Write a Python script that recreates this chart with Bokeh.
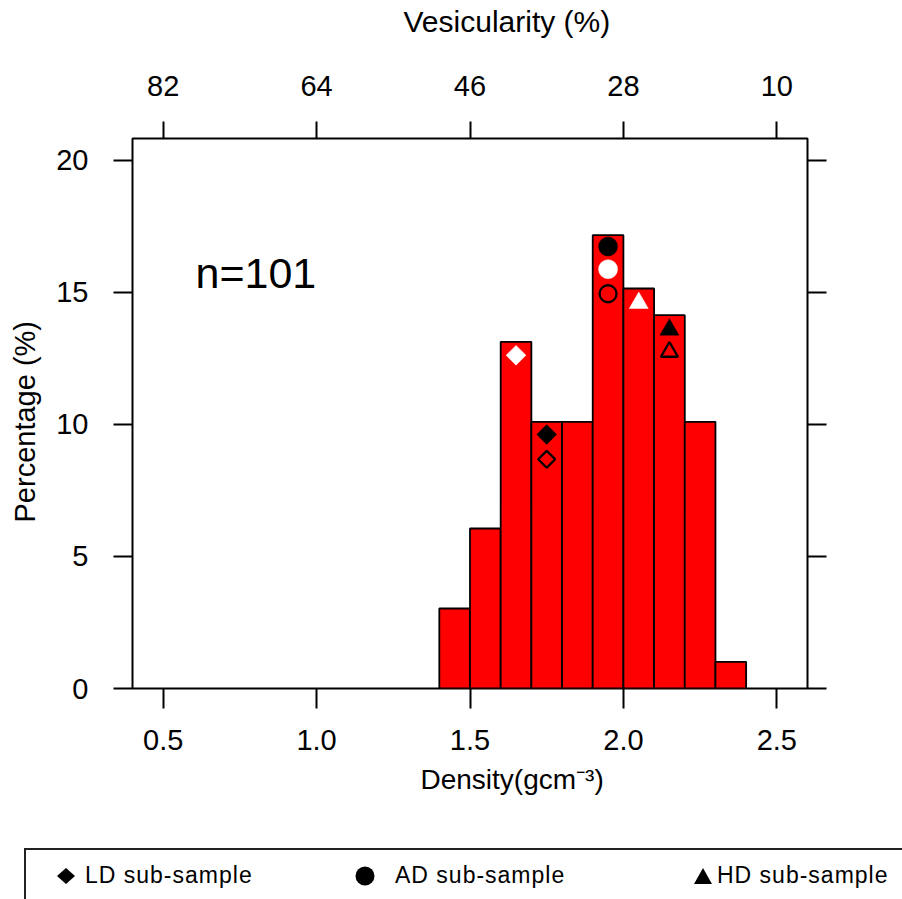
import numpy as np
from bokeh.plotting import figure
from bokeh.models import (LinearAxis, FixedTicker, Range1d, Label, NumeralTickFormatter,
                          ColumnDataSource, Title, Div)
from bokeh.layouts import column
from bokeh.embed import file_html
from bokeh.resources import INLINE

# ---------------- data ----------------
bin_edges = [1.4, 1.5, 1.6, 1.7, 1.8, 1.9, 2.0, 2.1, 2.2, 2.3, 2.4]
bin_pct = [3.03, 6.06, 13.13, 10.10, 10.10, 17.17, 15.15, 14.14, 10.10, 1.01]

density_ticks = [0.5, 1.0, 1.5, 2.0, 2.5]
vesicularity_labels = ["82", "64", "46", "28", "10"]
pct_ticks = [0, 5, 10, 15, 20]

# sub-sample markers (density bin centre, percentage, style)
ld_density = [1.65, 1.75, 1.75]
ld_pct = [12.62, 9.62, 8.68]
ld_style = ["white", "black", "open"]

ad_density = [1.95, 1.95, 1.95]
ad_pct = [16.74, 15.88, 14.95]
ad_style = ["black", "white", "open"]

hd_density = [2.05, 2.15, 2.15]
hd_pct = [14.60, 13.59, 12.75]
hd_style = ["white", "black", "open"]

legend_labels = ["LD sub-sample", "AD sub-sample", "HD sub-sample"]
n_label = "n=101"

FONT = "Liberation Sans"

# ---------------- main figure ----------------
XR = (0.4, 2.6)
YR = (0.0, 20.83)
p = figure(width=902, height=845,
           x_range=Range1d(*XR), y_range=Range1d(*YR),
           output_backend="svg", toolbar_location=None,
           min_border_left=132, min_border_top=138,
           min_border_right=95, min_border_bottom=157)
p.xgrid.visible = False
p.ygrid.visible = False
p.outline_line_color = "black"
p.outline_line_width = 2
p.background_fill_color = "white"
p.border_fill_color = "white"

def style_axis(ax, tick_out, standoff):
    ax.major_tick_out = tick_out
    ax.major_tick_in = 0
    ax.minor_tick_line_color = None
    ax.axis_line_color = None
    ax.major_tick_line_color = "black"
    ax.major_tick_line_width = 2
    ax.major_label_text_font = FONT
    ax.major_label_text_font_size = "29px"
    ax.major_label_text_color = "black"
    ax.major_label_standoff = standoff

def spacer_axis(gap, tick):
    # invisible axis used only to leave a gap between tick labels and title
    return LinearAxis(ticker=FixedTicker(ticks=[tick]), major_label_overrides={tick: ""},
                      major_tick_out=gap, major_tick_in=0, major_label_standoff=0,
                      major_label_text_font_size="1px", axis_line_color=None,
                      major_tick_line_color=None, minor_tick_line_color=None,
                      major_label_text_color=None)

xa = p.xaxis[0]
xa.ticker = FixedTicker(ticks=density_ticks)
xa.formatter = NumeralTickFormatter(format="0.0")
style_axis(xa, 20, 21)

ya = p.yaxis[0]
ya.ticker = FixedTicker(ticks=pct_ticks)
style_axis(ya, 19, 25)

top = LinearAxis(ticker=FixedTicker(ticks=density_ticks),
                 major_label_overrides=dict(zip(density_ticks, vesicularity_labels)))
style_axis(top, 17, 26)
p.add_layout(top, "above")

right = LinearAxis(ticker=FixedTicker(ticks=pct_ticks))
style_axis(right, 19, 5)
right.major_label_text_color = None
p.add_layout(right, "right")

p.add_layout(spacer_axis(35, density_ticks[2]), "above")
p.add_layout(spacer_axis(13, pct_ticks[2]), "left")

# axis titles
p.add_layout(Title(text="Vesicularity (%)", align="left", offset=271, standoff=0,
                   text_font=FONT, text_font_size="30px", text_font_style="normal",
                   text_color="black"), "above")
p.add_layout(Title(text="Density(gcm\u207b\u00b3)", align="left", offset=288, standoff=19,
                   text_font=FONT, text_font_size="28px", text_font_style="normal",
                   text_color="black"), "below")
p.add_layout(Title(text="Percentage (%)", align="left", offset=166, standoff=0,
                   text_font=FONT, text_font_size="29px", text_font_style="normal",
                   text_color="black"), "left")

# histogram bars
src = ColumnDataSource(dict(left=bin_edges[:-1], right=bin_edges[1:],
                            top=bin_pct, bottom=[0] * len(bin_pct)))
p.quad(left="left", right="right", top="top", bottom="bottom", source=src,
       fill_color="#ff0000", line_color="black", line_width=1.8)

def draw_markers(xs, ys, styles, marker, size, angle=0.0):
    for x, y, s in zip(xs, ys, styles):
        if s == "black":
            p.scatter([x], [y], marker=marker, size=size, angle=angle,
                      fill_color="black", line_color="black", line_width=0.5)
        elif s == "white":
            p.scatter([x], [y], marker=marker, size=size, angle=angle,
                      fill_color="white", line_color="white", line_width=0.5)
        else:
            p.scatter([x], [y], marker=marker, size=size - 2, angle=angle,
                      fill_color=None, line_color="black", line_width=2.3)

draw_markers(ld_density, ld_pct, ld_style, "square", 14, np.pi / 4)
draw_markers(ad_density, ad_pct, ad_style, "circle", 19)
draw_markers(hd_density, hd_pct, hd_style, "triangle", 19)

p.add_layout(Label(x=0.6053, y=15.75, text=n_label, text_font=FONT,
                   text_font_size="43px", text_color="black",
                   text_align="left", text_baseline="alphabetic"))

# ---------------- legend strip (HTML) ----------------
text_style = ("position:absolute;top:17px;height:26px;line-height:26px;"
              "font-family:'Liberation Sans',Arial,sans-serif;font-size:23px;"
              "letter-spacing:1px;color:black;white-space:nowrap;")
text_left = [85, 395, 717]
spans = "".join(
    f'<span style="{text_style}left:{x}px;">{t}</span>'
    for x, t in zip(text_left, legend_labels))
svg = ('<svg style="position:absolute;left:0;top:0;" width="902" height="54">'
       '<polygon points="66,23 75,31 66,39 57,31" fill="black"/>'
       '<circle cx="365" cy="31" r="9.5" fill="black"/>'
       '<polygon points="694,39 712,39 703,23" fill="black"/>'
       '</svg>')
box = ('<div style="position:absolute;left:24px;top:3px;width:890px;height:80px;'
       'border-left:2px solid #222;border-top:2px solid #222;"></div>')
legend_html = (f'<div style="position:relative;width:902px;height:54px;overflow:hidden;'
               f'background:white;">{box}{svg}{spans}</div>')
legend_div = Div(text=legend_html, width=902, height=54, margin=0)

layout = column(p, legend_div, spacing=0)
open("out.html", "w").write(file_html(layout, INLINE))
